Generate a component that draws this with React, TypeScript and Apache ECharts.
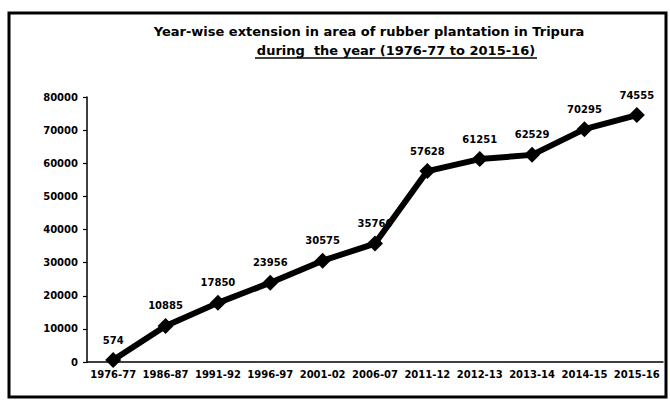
import React, { useEffect, useRef } from "react";
import * as echarts from "echarts";

const categories = ["1976-77", "1986-87", "1991-92", "1996-97", "2001-02", "2006-07", "2011-12", "2012-13", "2013-14", "2014-15", "2015-16"];
const areaValues = [574, 10885, 17850, 23956, 30575, 35760, 57628, 61251, 62529, 70295, 74555];
const yTicks = { min: 0, max: 80000, interval: 10000 };
const titleLine1 = "Year-wise extension in area of rubber plantation in Tripura";
const titleLine2 = "during  the year (1976-77 to 2015-16)";

const FONT = "'DejaVu Sans', Verdana, sans-serif";

export default function App() {
  const ref = useRef<HTMLDivElement>(null);
  useEffect(() => {
    document.body.style.margin = "0";
    if (!ref.current) return;
    const chart = echarts.init(ref.current, null, { renderer: "svg" });
    chart.setOption({
      animation: false,
      backgroundColor: "#ffffff",
      grid: { left: 87, right: 7, top: 97, bottom: 38, containLabel: false },
      graphic: [
        {
          type: "rect",
          shape: { x: 9, y: 13, width: 657, height: 384 },
          style: { fill: "none", stroke: "#000", lineWidth: 3 },
          silent: true,
        },
        {
          type: "text",
          x: 369,
          y: 31,
          style: {
            text: titleLine1,
            font: `bold 13px ${FONT}`,
            fill: "#000",
            align: "center",
            verticalAlign: "middle",
          },
        },
        {
          type: "text",
          x: 396,
          y: 50,
          style: {
            text: titleLine2,
            font: `bold 13px ${FONT}`,
            fill: "#000",
            align: "center",
            verticalAlign: "middle",
          },
        },
        {
          type: "line",
          shape: { x1: 255, y1: 58, x2: 537, y2: 58 },
          style: { stroke: "#000", lineWidth: 1.3 },
        },
      ],
      xAxis: {
        type: "category",
        data: categories,
        boundaryGap: true,
        axisLine: { lineStyle: { color: "#000", width: 1.5 } },
        axisTick: { inside: true, length: 5, lineStyle: { color: "#000", width: 1.5 } },
        axisLabel: {
          interval: 0,
          color: "#000",
          fontFamily: FONT,
          fontWeight: "bold",
          fontSize: 10,
          margin: 7,
        },
      },
      yAxis: {
        type: "value",
        min: yTicks.min,
        max: yTicks.max,
        interval: yTicks.interval,
        splitLine: { show: false },
        axisLine: { show: true, lineStyle: { color: "#000", width: 1.5 } },
        axisTick: { show: true, length: 4, lineStyle: { color: "#000", width: 1.2 } },
        axisLabel: {
          color: "#000",
          fontFamily: FONT,
          fontWeight: "bold",
          fontSize: 10,
          margin: 9,
          formatter: (v: number) => String(v),
        },
      },
      series: [
        {
          type: "line",
          data: areaValues,
          symbol: "diamond",
          symbolSize: 16,
          lineStyle: { color: "#000", width: 6 },
          itemStyle: { color: "#000" },
          label: {
            show: true,
            position: "top",
            distance: 7,
            color: "#000",
            fontFamily: FONT,
            fontWeight: "bold",
            fontSize: 10,
          },
        },
      ],
    });
    return () => chart.dispose();
  }, []);
  return <div ref={ref} style={{ width: 670, height: 400 }} />;
}
